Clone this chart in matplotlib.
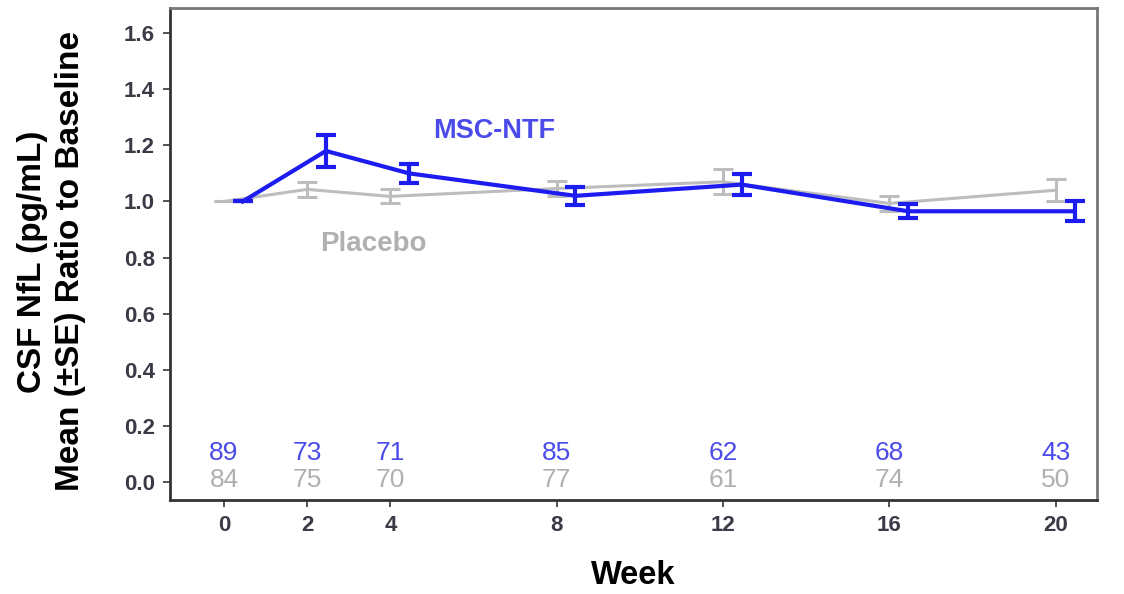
import matplotlib
matplotlib.use("Agg")
import matplotlib.pyplot as plt

# Study visits (weeks) and group summaries
weeks = [0, 2, 4, 8, 12, 16, 20]

ntf_mean = [1.00, 1.18, 1.10, 1.02, 1.06, 0.965, 0.965]
ntf_se = [0.00, 0.058, 0.035, 0.032, 0.038, 0.025, 0.035]
ntf_n = [89, 73, 71, 85, 62, 68, 43]

pbo_mean = [1.00, 1.043, 1.018, 1.046, 1.07, 0.993, 1.04]
pbo_se = [0.00, 0.027, 0.025, 0.028, 0.045, 0.028, 0.040]
pbo_n = [84, 75, 70, 77, 61, 74, 50]

yticks = [0.0, 0.2, 0.4, 0.6, 0.8, 1.0, 1.2, 1.4, 1.6]

BLUE = "#1c1cf0"
BLUE_TXT = "#4b4bea"
GREY = "#bdbdbd"
GREY_TXT = "#b0b0b0"
TICK_TXT = "#3b3b48"

plt.rcParams["font.family"] = ["Liberation Sans", "DejaVu Sans"]

fig = plt.figure(figsize=(11.24, 5.94), dpi=100)
ax = fig.add_axes([0.1512, 0.158, 0.8248, 0.8285])

dodge_pbo = 0.0
dodge_ntf = 0.45

x_pbo = [w + dodge_pbo for w in weeks]
x_ntf = [w + dodge_ntf for w in weeks]

cap = 7.2
ax.errorbar(x_pbo, pbo_mean, yerr=pbo_se, color=GREY, lw=2.2,
            elinewidth=2.2, capsize=cap, capthick=2.2, zorder=2)
ax.errorbar(x_ntf, ntf_mean, yerr=ntf_se, color=BLUE, lw=3,
            elinewidth=3, capsize=cap, capthick=3, zorder=3)

# Number of participants at each visit
for w, n in zip(weeks, ntf_n):
    ax.text(w, 0.103, str(n), color=BLUE_TXT, fontsize=19,
            ha="center", va="center")
for w, n in zip(weeks, pbo_n):
    ax.text(w, 0.008, str(n), color=GREY_TXT, fontsize=19,
            ha="center", va="center")

ax.text(6.5, 1.25, "MSC-NTF", color=BLUE_TXT, fontsize=19.5,
        fontweight="bold", ha="center", va="center")
ax.text(3.6, 0.85, "Placebo", color=GREY_TXT, fontsize=20,
        fontweight="bold", ha="center", va="center")

ax.set_xlim(-1.30, 20.99)
ax.set_ylim(-0.064, 1.689)
ax.set_xticks(weeks)
ax.set_xticklabels([str(w) for w in weeks])
ax.set_yticks(yticks)
ax.set_yticklabels([f"{v:.1f}" for v in yticks])

for lab in ax.get_xticklabels() + ax.get_yticklabels():
    lab.set_fontweight("bold")
    lab.set_fontsize(16)
    lab.set_color(TICK_TXT)

ax.tick_params(axis="both", direction="out", length=5, width=1.3,
               color="#444444", pad=6)

for side in ["top", "right"]:
    ax.spines[side].set_color("#777777")
    ax.spines[side].set_linewidth(2)
for side in ["left", "bottom"]:
    ax.spines[side].set_color("#333333")
    ax.spines[side].set_linewidth(2)

ax.set_xlabel("Week", fontsize=23.5, fontweight="bold", labelpad=17)
fig.text(0.0285, 0.56, "CSF NfL (pg/mL)", rotation=90, fontsize=24,
         fontweight="bold", ha="center", va="center")
fig.text(0.0625, 0.56, "Mean (\u00b1SE) Ratio to Baseline", rotation=90,
         fontsize=24, fontweight="bold", ha="center", va="center")

fig.savefig("out.png", dpi=100)
